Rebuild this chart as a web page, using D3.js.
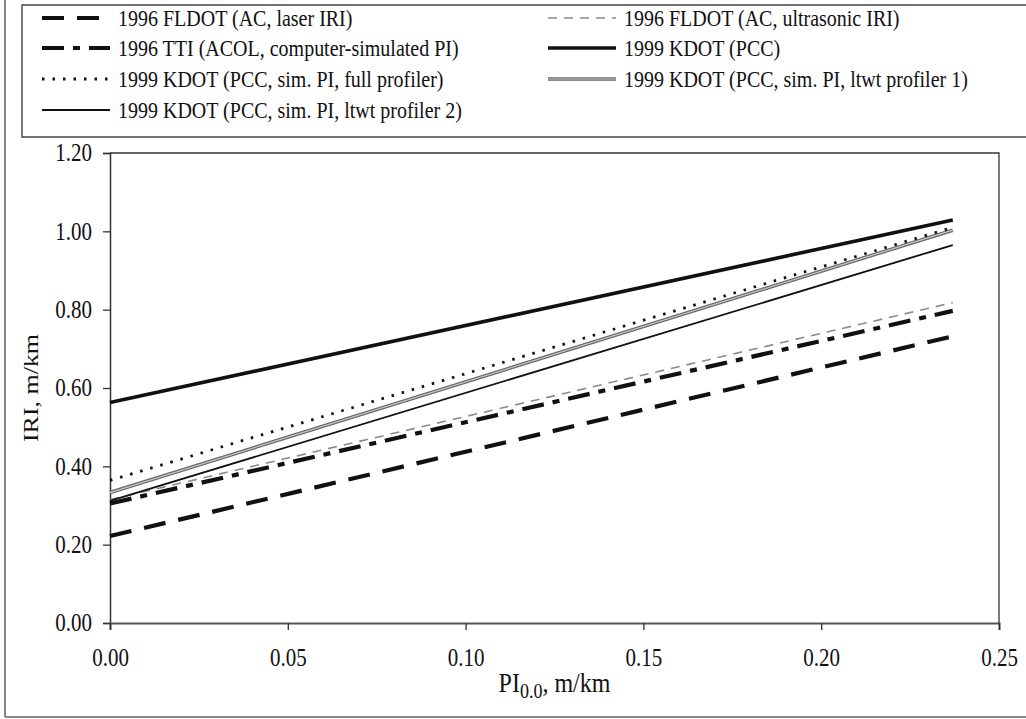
<!DOCTYPE html>
<html>
<head>
<meta charset="utf-8">
<script src="https://cdn.jsdelivr.net/npm/d3@7"></script>
<style>
  html, body { margin: 0; padding: 0; background: #fff; }
  svg { display: block; }
  text { font-family: "Liberation Serif", "Times New Roman", serif; fill: #111; }
</style>
</head>
<body>
<svg id="chart" width="1026" height="719"></svg>
<script>
// ---- data ----
const seriesNames = [
  "1996 FLDOT (AC, laser IRI)",
  "1996 FLDOT (AC, ultrasonic IRI)",
  "1996 TTI (ACOL, computer-simulated PI)",
  "1999 KDOT (PCC)",
  "1999 KDOT (PCC, sim. PI, full profiler)",
  "1999 KDOT (PCC, sim. PI, ltwt profiler 1)",
  "1999 KDOT (PCC, sim. PI, ltwt profiler 2)"
];
const piValues = [0.0, 0.237];               // PI0.0, m/km (line end points)
const iriLaser      = [0.222, 0.732];
const iriUltrasonic = [0.315, 0.818];
const iriTTI        = [0.305, 0.797];
const iriKdotPCC    = [0.563, 1.029];
const iriFull       = [0.364, 1.010];
const iriLtwt1      = [0.333, 1.003];
const iriLtwt2      = [0.312, 0.965];
const xTicks = [0, 0.05, 0.10, 0.15, 0.20, 0.25];
const yTicks = [0, 0.2, 0.4, 0.6, 0.8, 1.0, 1.2];
const xTitle = "PI";
const xTitleSub = "0.0";
const xTitleRest = ", m/km";
const yTitle = "IRI, m/km";

// ---- styles (by series) ----
const styles = {
  "1996 FLDOT (AC, laser IRI)":              [{stroke:"#111", w:4.2, dash:"22,13"}],
  "1996 FLDOT (AC, ultrasonic IRI)":         [{stroke:"#8a8a8a", w:1.6, dash:"9,7"}],
  "1996 TTI (ACOL, computer-simulated PI)":  [{stroke:"#111", w:4.2, dash:"22,9,7,9"}],
  "1999 KDOT (PCC)":                         [{stroke:"#111", w:3.6, dash:null}],
  "1999 KDOT (PCC, sim. PI, full profiler)": [{stroke:"#111", w:2.8, dash:"2.5,8"}],
  "1999 KDOT (PCC, sim. PI, ltwt profiler 1)":[{stroke:"#666", w:3.6, dash:null},{stroke:"#c8c8c8", w:1.2, dash:null}],
  "1999 KDOT (PCC, sim. PI, ltwt profiler 2)":[{stroke:"#111", w:1.8, dash:null}]
};
const seriesData = {
  "1996 FLDOT (AC, laser IRI)": iriLaser,
  "1996 FLDOT (AC, ultrasonic IRI)": iriUltrasonic,
  "1996 TTI (ACOL, computer-simulated PI)": iriTTI,
  "1999 KDOT (PCC)": iriKdotPCC,
  "1999 KDOT (PCC, sim. PI, full profiler)": iriFull,
  "1999 KDOT (PCC, sim. PI, ltwt profiler 1)": iriLtwt1,
  "1999 KDOT (PCC, sim. PI, ltwt profiler 2)": iriLtwt2
};

const K = 1.18; // vertical stretch of the scanned lettering
function stretch(sel) {
  sel.each(function() {
    const t = d3.select(this);
    const yy = +(t.attr("y") || 0);
    t.attr("transform", `translate(0,${yy - K * yy}) scale(1,${K})`);
  });
}

const svg = d3.select("#chart");
const L = 110, R = 999, T = 153, B = 623;
const x = d3.scaleLinear().domain([0, 0.25]).range([L, R]);
const y = d3.scaleLinear().domain([0, 1.2]).range([B, T]);

// outer frame (left & bottom visible)
svg.append("line").attr("x1",5).attr("x2",5).attr("y1",0).attr("y2",717)
  .attr("stroke","#666").attr("stroke-width",1.6);
svg.append("line").attr("x1",5).attr("x2",1026).attr("y1",717).attr("y2",717)
  .attr("stroke","#666").attr("stroke-width",1.6);

// legend box
svg.append("path").attr("d","M1026,5 L22,5 L22,137 L1026,137")
  .attr("fill","none").attr("stroke","#444").attr("stroke-width",1.4);

// plot frame (top & right)
svg.append("path").attr("d",`M${L},${T} L${R},${T} L${R},${B}`)
  .attr("fill","none").attr("stroke","#333").attr("stroke-width",1.3);

// axes
const yAxis = d3.axisLeft(y).tickValues(yTicks).tickFormat(d3.format(".2f")).tickSize(7).tickPadding(11);
const gy = svg.append("g").attr("transform",`translate(${L},0)`).call(yAxis);
gy.select(".domain").attr("stroke","#333").attr("stroke-width",1.5);
gy.selectAll(".tick line").attr("stroke","#333").attr("stroke-width",1.3);
gy.selectAll(".tick text").style("font-size","21px").attr("fill","#111").call(stretch);

const xAxis = d3.axisBottom(x).tickValues(xTicks).tickFormat(d3.format(".2f")).tickSize(7).tickPadding(18);
const gx = svg.append("g").attr("transform",`translate(0,${B})`).call(xAxis);
gx.select(".domain").attr("stroke","#555").attr("stroke-width",2);
gx.selectAll(".tick line").attr("stroke","#333").attr("stroke-width",1.3);
gx.selectAll(".tick text").style("font-size","21px").attr("fill","#111").call(stretch);

// titles
svg.append("text").attr("transform",`translate(38,${(T+B)/2}) scale(1,${K}) rotate(-90)`)
  .attr("text-anchor","middle").style("font-size","22px").text(yTitle);
const xt = svg.append("text").attr("x",(L+R)/2).attr("y",692)
  .attr("text-anchor","middle").style("font-size","24px");
xt.append("tspan").text(xTitle);
xt.append("tspan").attr("dy",5).style("font-size","18px").text(xTitleSub);
xt.append("tspan").attr("dy",-5).text(xTitleRest);
xt.call(stretch);

// series lines
const line = d3.line().x(d => x(d[0])).y(d => y(d[1]));
const drawOrder = [
  "1996 FLDOT (AC, laser IRI)",
  "1996 TTI (ACOL, computer-simulated PI)",
  "1996 FLDOT (AC, ultrasonic IRI)",
  "1999 KDOT (PCC, sim. PI, ltwt profiler 2)",
  "1999 KDOT (PCC, sim. PI, ltwt profiler 1)",
  "1999 KDOT (PCC, sim. PI, full profiler)",
  "1999 KDOT (PCC)"
];
drawOrder.forEach(name => {
  const pts = piValues.map((p,i) => [p, seriesData[name][i]]);
  styles[name].forEach(s => {
    svg.append("path").datum(pts).attr("d", line)
      .attr("fill","none").attr("stroke", s.stroke).attr("stroke-width", s.w)
      .attr("stroke-dasharray", s.dash);
  });
});

// legend
const legendItems = [
  {name: seriesNames[0], col: 0, row: 0},
  {name: seriesNames[2], col: 0, row: 1},
  {name: seriesNames[4], col: 0, row: 2},
  {name: seriesNames[6], col: 0, row: 3},
  {name: seriesNames[1], col: 1, row: 0},
  {name: seriesNames[3], col: 1, row: 1},
  {name: seriesNames[5], col: 1, row: 2}
];
const colX = [42, 548];
const rowY = [18, 48, 79, 110];
legendItems.forEach(it => {
  const x0 = colX[it.col], yy = rowY[it.row];
  styles[it.name].forEach(s => {
    svg.append("line").attr("x1", x0).attr("x2", x0 + 68).attr("y1", yy).attr("y2", yy)
      .attr("stroke", s.stroke).attr("stroke-width", s.w).attr("stroke-dasharray", s.dash);
  });
  svg.append("text").attr("x", x0 + 76).attr("y", yy).attr("dy","0.35em")
    .style("font-size","20px").text(it.name).call(stretch);
});
</script>
</body>
</html>
